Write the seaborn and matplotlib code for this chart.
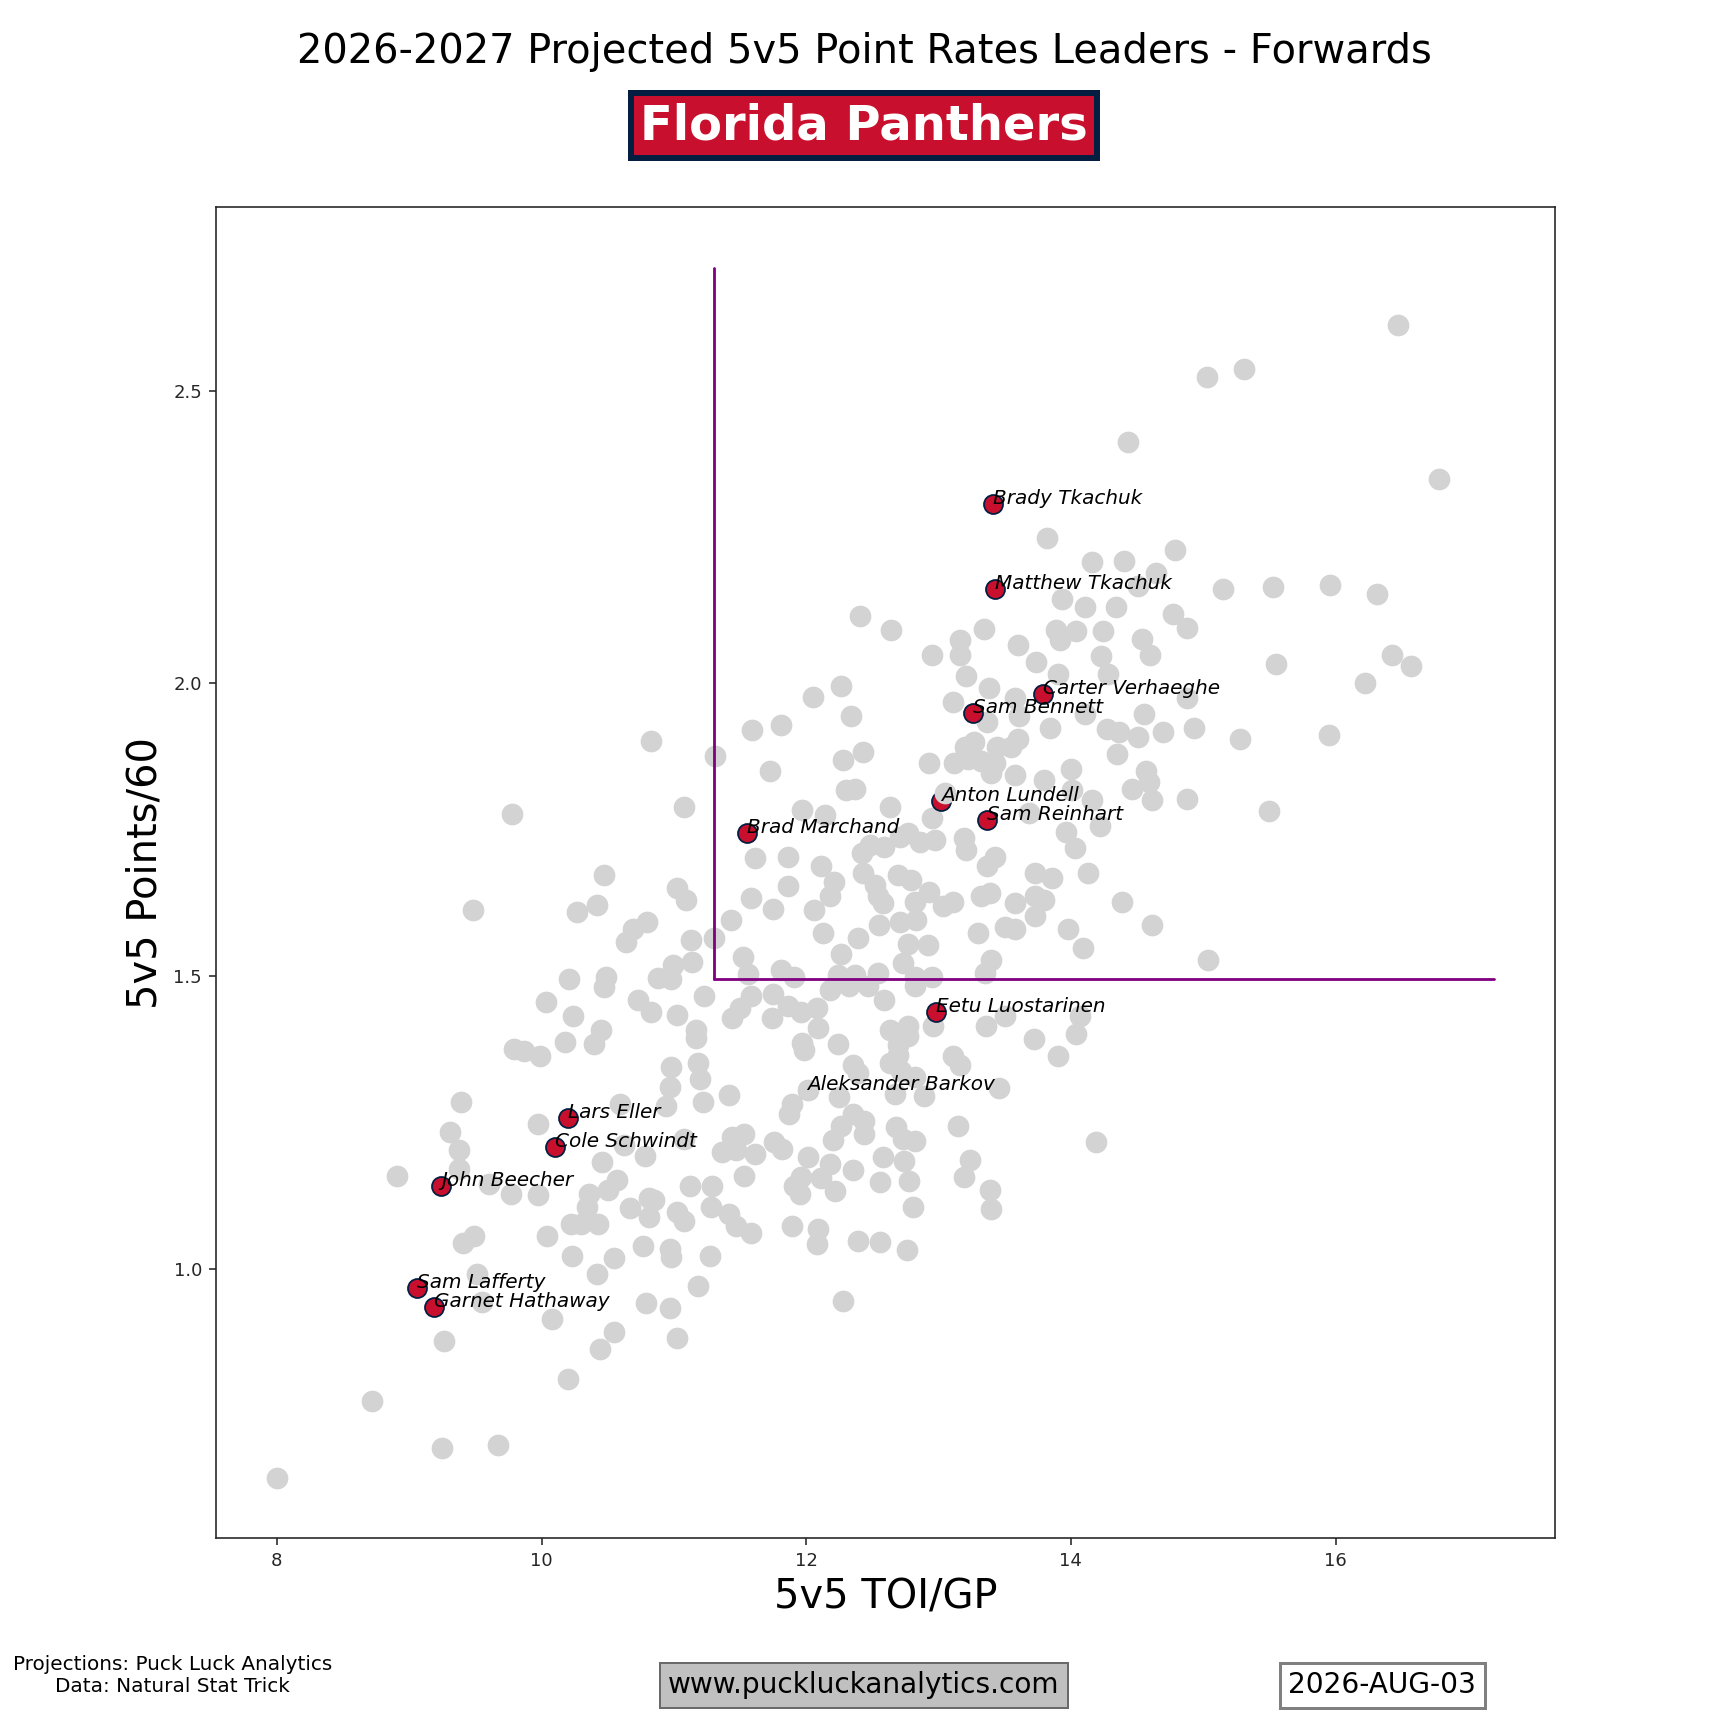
import numpy as np
import pandas as pd
import matplotlib
matplotlib.use("Agg")
import matplotlib.pyplot as plt
import seaborn as sns

# league forwards (5v5 TOI/GP, 5v5 P/60)
toi_a = [10.83, 9.78, 11.08, 10.47, 9.48, 10.42, 10.27, 11.02, 11.09, 10.80, 10.69, 10.64, 11.13, 11.14, 10.99, 10.88,
         10.98, 10.49, 10.47, 10.21, 10.03, 10.73, 10.83, 11.02, 10.24, 10.45, 10.40, 10.18, 9.79, 9.87, 9.99, 10.98,
         10.97, 10.94, 9.39, 10.59]
pts_a = [1.902, 1.776, 1.789, 1.672, 1.613, 1.621, 1.609, 1.650, 1.630, 1.592, 1.581, 1.558, 1.561, 1.524, 1.518, 1.496,
         1.494, 1.498, 1.481, 1.494, 1.455, 1.459, 1.439, 1.434, 1.431, 1.408, 1.383, 1.387, 1.375, 1.371, 1.364, 1.345,
         1.311, 1.278, 1.285, 1.282]

toi_b = [9.97, 9.31, 9.38, 9.38, 8.91, 9.60, 9.77, 9.97, 10.46, 10.62, 10.78, 11.08, 10.57, 10.50, 10.36, 10.34, 10.22,
         10.30, 10.43, 10.67, 10.81, 10.85, 10.81, 11.02, 9.49, 9.41, 10.04, 10.23, 10.55, 10.77, 10.97, 10.98, 10.42,
         9.51, 9.55, 10.79, 10.97, 10.08, 10.55, 10.44, 11.02, 9.26, 10.20, 8.72, 9.25, 9.67, 8.0]
pts_b = [1.247, 1.234, 1.202, 1.171, 1.158, 1.145, 1.128, 1.125, 1.182, 1.211, 1.193, 1.222, 1.151, 1.134, 1.128, 1.106,
         1.076, 1.076, 1.076, 1.103, 1.120, 1.117, 1.089, 1.097, 1.056, 1.043, 1.056, 1.022, 1.018, 1.038, 1.034, 1.020,
         0.991, 0.991, 0.943, 0.941, 0.932, 0.914, 0.892, 0.863, 0.881, 0.877, 0.812, 0.774, 0.694, 0.698, 0.643]

toi_c = [14.16, 12.41, 12.64, 13.34, 13.93, 14.11, 13.16, 13.16, 12.95, 13.60, 13.89, 13.92, 14.04, 13.74, 13.90, 13.21,
         13.38, 13.58, 13.11, 13.84, 13.61, 14.11, 13.37, 13.60]
pts_c = [2.208, 2.115, 2.091, 2.093, 2.144, 2.131, 2.074, 2.049, 2.049, 2.066, 2.091, 2.074, 2.089, 2.036, 2.015, 2.012,
         1.992, 1.975, 1.968, 1.924, 1.944, 1.947, 1.933, 1.904]

toi_d = [12.93, 13.12, 13.20, 13.27, 13.22, 13.32, 13.44, 13.43, 13.40, 13.58, 13.55, 14.00, 13.80, 14.01, 13.68, 13.96,
         14.03, 14.13, 13.73, 13.86, 13.43, 13.37, 13.19, 13.21, 12.95, 12.97, 12.86, 12.77, 12.63]
pts_d = [1.864, 1.863, 1.891, 1.899, 1.871, 1.868, 1.891, 1.863, 1.846, 1.843, 1.891, 1.854, 1.834, 1.817, 1.778, 1.746,
         1.718, 1.676, 1.676, 1.667, 1.704, 1.688, 1.735, 1.715, 1.769, 1.732, 1.729, 1.744, 1.789]

toi_e = [12.37, 12.30, 12.43, 12.28, 12.34, 12.26, 12.05, 11.81, 11.59, 11.31, 11.73, 11.97, 12.14, 12.42, 12.59, 12.71,
         12.48, 11.61, 11.86, 12.11, 12.21, 12.43, 12.52, 12.69, 12.79]
pts_e = [1.820, 1.817, 1.882, 1.869, 1.944, 1.995, 1.977, 1.928, 1.920, 1.875, 1.850, 1.784, 1.775, 1.710, 1.721, 1.738,
         1.724, 1.702, 1.704, 1.687, 1.661, 1.676, 1.656, 1.673, 1.664]

toi_f = [12.54, 12.58, 12.93, 12.82, 13.03, 13.11, 13.32, 13.39, 13.58, 13.50, 13.58, 13.73, 13.80, 13.73, 13.98, 14.09,
         13.30, 13.40, 11.86, 11.58, 11.75, 11.43, 11.30, 12.06, 12.18, 12.13, 12.39, 12.55, 12.71, 12.83, 12.77, 12.92,
         12.26, 11.52, 11.56, 11.81, 11.91, 12.24, 12.37, 12.54, 12.73, 12.82, 12.95, 13.35]
pts_f = [1.636, 1.624, 1.644, 1.627, 1.619, 1.627, 1.636, 1.642, 1.625, 1.584, 1.581, 1.636, 1.630, 1.602, 1.581, 1.547,
         1.573, 1.527, 1.653, 1.633, 1.614, 1.595, 1.564, 1.613, 1.636, 1.574, 1.565, 1.587, 1.593, 1.596, 1.555, 1.553,
         1.538, 1.533, 1.504, 1.510, 1.499, 1.502, 1.502, 1.505, 1.522, 1.499, 1.499, 1.505]

toi_g = [11.23, 11.44, 11.58, 11.50, 11.74, 11.75, 11.86, 11.96, 12.08, 12.09, 11.17, 11.17, 11.18, 11.20, 11.22, 11.42,
         11.97, 11.98, 12.24, 12.18, 12.32, 12.47, 12.59, 12.82, 12.63, 12.77, 12.77, 12.69, 12.69, 12.63, 12.35, 12.39,
         12.72, 12.82, 12.96, 13.11, 13.16, 13.36, 13.50, 13.72, 13.90, 14.04, 14.07]
pts_g = [1.466, 1.429, 1.465, 1.446, 1.428, 1.470, 1.448, 1.439, 1.445, 1.411, 1.408, 1.394, 1.351, 1.324, 1.284, 1.297,
         1.385, 1.374, 1.384, 1.476, 1.482, 1.482, 1.459, 1.482, 1.408, 1.414, 1.397, 1.382, 1.365, 1.351, 1.348, 1.335,
         1.338, 1.327, 1.414, 1.363, 1.348, 1.414, 1.431, 1.393, 1.363, 1.401, 1.431]

toi_h = [13.46, 12.89, 12.67, 12.25, 11.89, 11.87, 12.35, 12.44, 12.44, 12.26, 12.20, 12.68, 12.73, 12.82, 13.15, 14.19,
         11.44, 11.53, 11.36, 11.47, 11.61, 11.76, 11.82, 12.01, 12.18, 12.35, 12.58, 12.74, 13.24, 13.19, 12.56, 12.78,
         11.96, 11.91, 12.11, 12.22, 11.95, 11.53, 11.12, 11.29, 11.28, 11.42, 11.47, 11.58, 11.08, 13.39, 13.40, 12.81,
         11.89, 12.09, 12.08, 12.39, 12.56, 12.76, 11.27, 11.18, 12.28]
pts_h = [1.308, 1.295, 1.298, 1.293, 1.281, 1.265, 1.264, 1.253, 1.230, 1.244, 1.219, 1.242, 1.222, 1.218, 1.243, 1.217,
         1.225, 1.230, 1.199, 1.202, 1.196, 1.216, 1.205, 1.190, 1.179, 1.169, 1.190, 1.184, 1.185, 1.156, 1.148, 1.150,
         1.157, 1.142, 1.154, 1.133, 1.128, 1.158, 1.142, 1.141, 1.106, 1.094, 1.073, 1.061, 1.082, 1.134, 1.102, 1.106,
         1.072, 1.068, 1.042, 1.048, 1.045, 1.032, 1.021, 0.971, 0.944]

toi_i = [16.47, 15.03, 15.31, 14.43, 16.78, 14.40, 14.79, 14.64, 14.51, 15.15, 15.53, 15.96, 16.31, 14.34, 14.77, 14.88,
         14.24, 14.54, 14.60, 14.23, 14.28, 15.55, 16.43, 16.57, 16.22]
pts_i = [2.612, 2.524, 2.537, 2.413, 2.349, 2.209, 2.227, 2.188, 2.167, 2.161, 2.165, 2.168, 2.153, 2.130, 2.118, 2.095,
         2.090, 2.076, 2.049, 2.046, 2.016, 2.033, 2.049, 2.029, 2.001]

toi_j = [14.88, 14.55, 14.27, 14.36, 14.51, 14.70, 14.93, 15.28, 15.95, 14.35, 14.57, 14.46, 14.59, 14.61, 14.88, 15.50,
         14.22, 14.16, 14.39, 14.61, 15.04, 13.82]
pts_j = [1.975, 1.947, 1.922, 1.916, 1.908, 1.917, 1.923, 1.905, 1.911, 1.879, 1.850, 1.819, 1.831, 1.800, 1.802, 1.781,
         1.756, 1.800, 1.627, 1.587, 1.527, 2.248]

# two league players drawn over Panthers markers
cover_toi = [13.05, 12.01]
cover_pts = [1.813, 1.305]

# Panthers forwards
team_names = ["Brady Tkachuk", "Matthew Tkachuk", "Carter Verhaeghe", "Sam Bennett", "Anton Lundell",
              "Sam Reinhart", "Brad Marchand", "Eetu Luostarinen", "Aleksander Barkov", "Lars Eller",
              "Cole Schwindt", "John Beecher", "Sam Lafferty", "Garnet Hathaway"]
team_toi = [13.41, 13.43, 13.79, 13.26, 13.02, 13.37, 11.55, 12.98, 12.01, 10.20, 10.10, 9.24, 9.06, 9.19]
team_pts = [2.307, 2.161, 1.981, 1.949, 1.799, 1.767, 1.744, 1.438, 1.305, 1.257, 1.208, 1.142, 0.967, 0.934]

# leader box
toi_cut = 11.3
pts_cut = 1.494
toi_end = 17.2
pts_end = 2.71

TEAM_RED = "#C8102E"
TEAM_NAVY = "#041E42"

league = pd.DataFrame({
    "toi": toi_a + toi_b + toi_c + toi_d + toi_e + toi_f + toi_g + toi_h + toi_i + toi_j,
    "pts": pts_a + pts_b + pts_c + pts_d + pts_e + pts_f + pts_g + pts_h + pts_i + pts_j,
})
team = pd.DataFrame({"name": team_names, "toi": team_toi, "pts": team_pts})
cover = pd.DataFrame({"toi": cover_toi, "pts": cover_pts})

sns.set_theme(style="ticks", rc={
    "axes.linewidth": 0.8,
    "xtick.major.size": 3.5, "ytick.major.size": 3.5,
    "xtick.major.width": 0.8, "ytick.major.width": 0.8,
    "xtick.labelsize": 9, "ytick.labelsize": 9,
    "axes.edgecolor": "#222222",
})
plt.rcParams["font.family"] = ["DejaVu Sans"]

fig, ax = plt.subplots(figsize=(12, 12), dpi=144)

sns.scatterplot(data=league, x="toi", y="pts", color="lightgray", s=118, linewidth=0, ax=ax)
sns.scatterplot(data=team, x="toi", y="pts", color=TEAM_RED, edgecolor=TEAM_NAVY, s=90, linewidth=0.9, ax=ax)
sns.scatterplot(data=cover, x="toi", y="pts", color="lightgray", s=118, linewidth=0, ax=ax)

for _, r in team.iterrows():
    ax.text(r["toi"], r["pts"], r["name"], fontsize=10, style="italic", color="black")

ax.plot([toi_cut, toi_cut], [pts_cut, pts_end], color="purple", lw=1.4)
ax.plot([toi_cut, toi_end], [pts_cut, pts_cut], color="purple", lw=1.4)

ax.set_xlim(7.54, 17.66)
ax.set_ylim(0.54, 2.813)
ax.set_xlabel("5v5 TOI/GP", fontsize=20, color="black")
ax.set_ylabel("5v5 Points/60", fontsize=20, color="black")

fig.text(0.5, 0.970, "2026-2027 Projected 5v5 Point Rates Leaders - Forwards",
         fontsize=20, ha="center", va="center", color="black")
fig.text(0.5, 0.9273, "Florida Panthers", fontsize=24, fontweight="bold", color="white",
         ha="center", va="center",
         bbox=dict(boxstyle="square,pad=0.19", facecolor=TEAM_RED, edgecolor=TEAM_NAVY, linewidth=3))

fig.text(0.1, 0.0304, "Projections: Puck Luck Analytics\nData: Natural Stat Trick",
         fontsize=10, ha="center", va="center", multialignment="center", color="black")
fig.text(0.5, 0.0247, "www.puckluckanalytics.com", fontsize=14, ha="center", va="center", color="black",
         bbox=dict(boxstyle="square,pad=0.3", facecolor="silver", edgecolor="dimgray", linewidth=1))
fig.text(0.8, 0.0247, "2026-AUG-03", fontsize=14, ha="center", va="center", color="black",
         bbox=dict(boxstyle="square,pad=0.3", facecolor="white", edgecolor="gray", linewidth=1.5))

fig.savefig("out.png", dpi=144)
